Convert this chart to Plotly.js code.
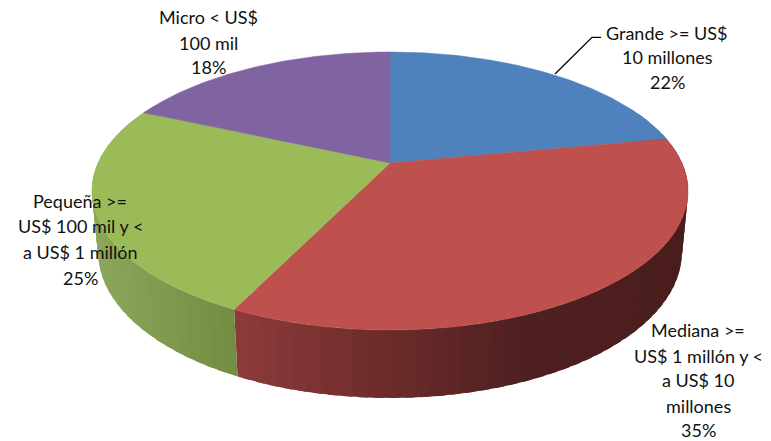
<!DOCTYPE html>
<html><head><meta charset="utf-8">
<script src="https://cdn.plot.ly/plotly-3.0.0.min.js"></script>
<style>html,body{margin:0;padding:0;background:#fff}#c{width:771px;height:441px}</style>
</head><body><div id="c"></div>
<script>
// data
const categories = ["Grande", "Mediana", "Pequeña", "Micro"];
const shares = [22, 35.2, 24.5, 18.3];
const labelLines = [
  ["Grande >= US$", "10 millones", "22%"],
  ["Mediana >=", "US$ 1 millón y <", "a US$ 10", "millones", "35%"],
  ["Pequeña >=", "US$ 100 mil y <", "a US$ 1 millón", "25%"],
  ["Micro < US$", "100 mil", "18%"]
];
// styles and view geometry
const topColors = ["#4f81bd", "#be504e", "#9bbb59", "#8064a2"];
const wallStops = [
  [[300,"#3a5f8c"],[700,"#2a4566"]],
  [[235,"#8c3b3a"],[380,"#6e2c2b"],[520,"#4f2020"],[690,"#4a1d1d"]],
  [[95,"#8ca75a"],[235,"#728c42"]],
  [[100,"#5f4a78"],[400,"#4a3a60"]]
];
const labelAnchors = [
  {x:667, y:[33,57,82]},
  {x:698, y:[330,356,380,406,430]},
  {x:80,  y:[201,226,252,278]},
  {x:208, y:[17,43,67]}
];
const topDisc  = {cx:390, cy:163, a:292, b:133.4, k:0.2014};
const baseDisc = {cx:390, cy:223, a:286, b:140,   k:0.2};
const FONT = "Lato, Carlito, Calibri, sans-serif";

function project(d, deg){
  const t = deg*Math.PI/180, u = Math.sin(t), v = Math.cos(t), w = 1 + d.k*v;
  return [d.cx + d.a*u/w, d.cy - d.b*v/w];
}
function hex(c){return [1,3,5].map(i=>parseInt(c.substr(i,2),16));}
function wallColor(stops, x){
  if (x <= stops[0][0]) return stops[0][1];
  for (let i=1;i<stops.length;i++){
    if (x <= stops[i][0]){
      const f=(x-stops[i-1][0])/(stops[i][0]-stops[i-1][0]);
      const a=hex(stops[i-1][1]), b=hex(stops[i][1]);
      return "rgb("+a.map((p,j)=>Math.round(p+(b[j]-p)*f)).join(",")+")";
    }
  }
  return stops[stops.length-1][1];
}
const total = shares.reduce((a,b)=>a+b,0);
const traces = [];
let start = 0;
const spans = shares.map(s=>{const r=[start,start+s/total*360]; start=r[1]; return r;});

// side wall: bands per slice, each overlapping the next so no seams show
spans.forEach((sp,i)=>{
  const step = 2.5;
  const n = Math.max(1,Math.ceil((sp[1]-sp[0])/step));
  const w = (sp[1]-sp[0])/n;
  for(let j=0;j<n;j++){
    const d0 = sp[0]+w*j, d1 = Math.min(sp[1], d0+w*1.6);
    if (Math.cos((d0+w/2)*Math.PI/180) > 0.45) continue;
    const xs=[], ys=[];
    for(let d=d0;d<d1;d+=0.5){const p=project(topDisc,d); xs.push(p[0]); ys.push(p[1]);}
    const pe=project(topDisc,d1); xs.push(pe[0]); ys.push(pe[1]);
    const qe=project(baseDisc,d1); xs.push(qe[0]); ys.push(qe[1]);
    for(let d=d1-0.5;d>d0;d-=0.5){const q=project(baseDisc,d); xs.push(q[0]); ys.push(q[1]);}
    const q0=project(baseDisc,d0), p0=project(topDisc,d0); xs.push(q0[0],p0[0]); ys.push(q0[1],p0[1]);
    const mid=project(topDisc,d0+w/2);
    traces.push({type:"scatter",mode:"lines",x:xs,y:ys,fill:"toself",fillcolor:wallColor(wallStops[i],mid[0]),
      line:{width:0},hoverinfo:"skip",showlegend:false});
  }
});
// top face
spans.forEach((sp,i)=>{
  const xs=[topDisc.cx], ys=[topDisc.cy];
  for(let d=sp[0]; d<sp[1]; d+=0.5){const p=project(topDisc,d); xs.push(p[0]); ys.push(p[1]);}
  const e=project(topDisc,sp[1]); xs.push(e[0],topDisc.cx); ys.push(e[1],topDisc.cy);
  traces.push({type:"scatter",mode:"lines",name:categories[i],x:xs,y:ys,fill:"toself",fillcolor:topColors[i],
    line:{color:topColors[i],width:0.5},hoverinfo:"skip",showlegend:false});
});

const annotations=[];
labelLines.forEach((lines,i)=>lines.forEach((t,j)=>annotations.push({
  text:t,x:labelAnchors[i].x,y:labelAnchors[i].y[j],xref:"x",yref:"y",showarrow:false,
  xanchor:"center",yanchor:"middle",font:{family:FONT,size:18,color:"#111"}
})));

Plotly.newPlot("c",traces,{
  width:771,height:441,margin:{l:0,r:0,t:0,b:0},showlegend:false,
  paper_bgcolor:"#fff",plot_bgcolor:"#fff",
  xaxis:{range:[0,771],visible:false,fixedrange:true},
  yaxis:{range:[441,0],visible:false,fixedrange:true},
  annotations,
  shapes:[{type:"path",path:"M 601 37.3 L 592 37.3 L 555 74",xref:"x",yref:"y",line:{color:"#000",width:1.3}}]
},{staticPlot:true,displayModeBar:false});
</script></body></html>
